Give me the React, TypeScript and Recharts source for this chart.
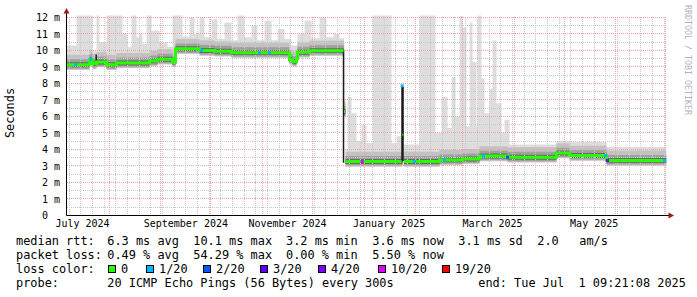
import React from 'react';
import { ComposedChart, Area, Line, XAxis, YAxis, ReferenceLine } from 'recharts';

const FONT = '"DejaVu Sans Mono", monospace';

// x = days since 2024-07-01 00:00, the graph covers the last 360 days up to Tue Jul 1 09:21:08 2025
const startDay = 5.39;
const endDay = 365.39;

// median rtt (ms), held from segStart to segEnd
const segStart = [5.39, 19.19, 20.99, 23.39, 29.39, 35.39, 55.19, 59.99, 68.99, 70.79, 85.19, 94.19, 104.39, 139.19, 141.0, 143.4, 144.0, 151.19, 171.9, 172.8, 207.0, 207.8, 229.19, 242.99, 253.19, 269.99, 299.39, 307.19, 329.39];
const segEnd = [19.19, 20.99, 23.39, 29.39, 35.39, 55.19, 59.99, 68.99, 70.79, 85.19, 94.19, 104.39, 139.19, 141.0, 143.4, 144.0, 151.19, 171.59, 172.49, 206.39, 207.59, 229.19, 242.99, 253.19, 269.99, 299.39, 307.19, 329.39, 364.8];
const segMs = [9.14, 9.44, 9.2, 9.3, 9.14, 9.24, 9.37, 9.47, 9.3, 10.1, 10.0, 9.95, 9.87, 9.45, 9.34, 9.5, 9.89, 9.99, 6.3, 3.27, 4.9, 3.27, 3.37, 3.43, 3.6, 3.53, 3.78, 3.63, 3.34];

// highest ping in the smoke (ms), held from maxDay on
const maxDay = [5.4, 11.4, 21.0, 23.4, 25.2, 29.4, 39.0, 42.0, 44.4, 47.4, 49.2, 51.0, 53.4, 56.4, 61.2, 66.0, 69.0, 75.0, 79.2, 82.2, 85.2, 88.2, 92.4, 96.0, 100.2, 104.4, 108.0, 112.2, 116.4, 120.0, 124.2, 128.4, 132.0, 136.2, 140.4, 144.0, 148.2, 152.4, 157.2, 161.4, 165.6, 169.2, 172.2, 174.0, 176.4, 179.4, 182.4, 185.4, 189.0, 200.4, 203.4, 206.4, 207.6, 217.2, 226.8, 230.4, 234.0, 236.4, 238.8, 241.2, 243.0, 245.4, 247.2, 249.0, 251.4, 252.0, 254.4, 256.2, 259.2, 261.0, 263.4, 266.4, 268.2, 271.2, 299.4, 329.4];
const maxMs = [10.3, 12.2, 9.8, 12.2, 10.5, 12.2, 11.0, 10.2, 12.2, 10.8, 11.0, 10.4, 12.2, 11.2, 10.5, 10.0, 12.2, 10.6, 12.0, 11.0, 12.0, 10.8, 11.9, 10.6, 11.7, 10.5, 12.2, 10.8, 11.5, 10.5, 11.8, 10.6, 11.3, 10.7, 10.3, 11.0, 11.8, 10.6, 12.0, 10.8, 11.0, 10.5, 4.0, 7.2, 6.2, 4.5, 5.5, 4.4, 12.2, 4.4, 4.8, 7.9, 4.3, 12.2, 5.0, 7.2, 5.3, 8.4, 6.0, 12.1, 11.4, 5.4, 11.7, 9.3, 5.4, 12.2, 8.3, 6.2, 7.7, 10.6, 6.8, 5.0, 5.8, 4.3, 4.45, 4.15];

// dark smoke at sudden jumps of the median
const jumpDay = [23.2, 171.6, 206.7, 207.3];
const jumpLow = [9.2, 3.2, 3.27, 3.3];
const jumpHigh = [9.75, 10.05, 7.86, 7.8];

// loss coloured spots on the median
const lossDay = [10.8, 20.1, 86.4, 121.2, 127.2, 182.8, 206.8, 214.2, 232.2, 255.6, 270.0, 328.8, 330.0, 364.2];
const lossMs = [9.14, 9.44, 10.0, 9.87, 9.87, 3.27, 7.86, 3.27, 3.37, 3.6, 3.53, 3.63, 3.34, 3.34];
const lossLevel = [1, 1, 1, 1, 1, 5, 1, 1, 1, 1, 2, 1, 4, 1];

const lossLabels = ['0', '1/20', '2/20', '3/20', '4/20', '10/20', '19/20'];
const lossColors = ['#26ff00', '#00b8ff', '#0059ff', '#5e00ff', '#7e00ff', '#dd00ff', '#ff0000'];

const monthStarts = [31, 62, 92, 123, 153, 184, 215, 243, 274, 304, 335, 365];
const weekStarts = [7, 14, 21, 28, 35, 42, 49, 56, 63, 70, 77, 84, 91, 98, 105, 112, 119, 126, 133, 140, 147, 154, 161, 168, 175, 182, 189, 196, 203, 210, 217, 224, 231, 238, 245, 252, 259, 266, 273, 280, 287, 294, 301, 308, 315, 322, 329, 336, 343, 350, 357, 364];
const labelDays = [15, 77, 138, 199, 261, 322];
const labelText = ['July 2024', 'September 2024', 'November 2024', 'January 2025', 'March 2025', 'May 2025'];
const yTicks = [0, 1, 2, 3, 4, 5, 6, 7, 8, 9, 10, 11, 12];
const yMinor = [0.5, 1.5, 2.5, 3.5, 4.5, 5.5, 6.5, 7.5, 8.5, 9.5, 10.5, 11.5];

const statsRtt = ['median rtt:', '6.3 ms avg', '10.1 ms max', '3.2 ms min', '3.6 ms now', '3.1 ms sd', '2.0', 'am/s'];
const statsLoss = ['packet loss:', '0.49 % avg', '54.29 % max', '0.00 % min', '5.50 % now'];
const probeText = ['probe:', '20 ICMP Echo Pings (56 Bytes) every 300s', 'end: Tue Jul  1 09:21:08 2025'];

// smoke shading around the median (ms below / above)
const smoke = [
  { key: 's0', below: 0.32, above: 0.75, fill: '#dddddd' },
  { key: 's1', below: 0.3, above: 0.6, fill: '#c2c2c2' },
  { key: 's2', below: 0.24, above: 0.33, fill: '#a0a0a0' },
  { key: 's3', below: 0.15, above: 0.15, fill: '#6a6a6a' },
];

const medAt = (d: number) => {
  let v = segMs[0];
  segStart.forEach((s, i) => { if (s <= d) v = segMs[i]; });
  return v;
};
const maxAt = (d: number) => {
  let v = maxMs[0];
  maxDay.forEach((s, i) => { if (s <= d) v = maxMs[i]; });
  return v;
};

const cuts = Array.from(new Set([startDay, ...segStart, ...segEnd, ...maxDay, endDay])).sort((a, b) => a - b);
const smokeRows = cuts.map((d) => {
  const m = medAt(d);
  const row: any = { d };
  smoke.forEach((s, i) => {
    row[s.key] = [m - s.below, i === 0 ? Math.max(maxAt(d), m + s.above) : m + s.above];
  });
  return row;
});

const medianRows: any[] = [];
segStart.forEach((s, i) => {
  if (i > 0 && s > segEnd[i - 1]) medianRows.push({ d: segEnd[i - 1], v: null });
  medianRows.push({ d: s, v: segMs[i] }, { d: segEnd[i], v: segMs[i] });
});

const jumpRows: any[] = [];
jumpDay.forEach((d, i) => {
  jumpRows.push({ d, v: jumpHigh[i] }, { d, v: jumpLow[i] }, { d, v: null });
});

const lossRows = lossDay.map((d, i) => ({ d, v: lossMs[i], c: lossColors[lossLevel[i]] }));

const LossDot = (p: any) => {
  if (p.cx == null || p.cy == null) return <g key={p.index} />;
  return <rect key={p.index} x={p.cx - 1.5} y={p.cy - 1.5} width={3} height={3} fill={p.payload.c} />;
};

const txt = { fontFamily: FONT, fontSize: 11.9, fill: '#000', whiteSpace: 'pre' } as any;

export default function App() {
  return (
    <div style={{ position: 'relative', width: 697, height: 297, background: '#fff' }}>
      <style>{'body{margin:0}'}</style>
      <ComposedChart width={697} height={297} data={smokeRows} margin={{ top: 15.5, right: 30.5, bottom: 61.5, left: 4.5 }}>
        <XAxis
          type="number"
          dataKey="d"
          domain={[startDay, endDay]}
          allowDataOverflow
          ticks={labelDays}
          tickFormatter={(v: number) => labelText[labelDays.indexOf(v)] ?? ''}
          interval={0}
          height={20}
          tickLine={false}
          tickSize={0}
          tickMargin={4.5}
          axisLine={{ stroke: '#000' }}
          tick={{ fontFamily: FONT, fontSize: 10, fill: '#000' }}
        />
        <YAxis
          type="number"
          domain={[0, 12.12]}
          allowDataOverflow
          ticks={yTicks}
          interval={0}
          width={62}
          tickLine={false}
          tickSize={0}
          tickMargin={6.5}
          axisLine={{ stroke: '#000' }}
          tickFormatter={(v: number) => (v === 0 ? '0\u00a0\u00a0' : `${v} m`)}
          tick={{ fontFamily: FONT, fontSize: 10, fill: '#000' }}
        />
        {smoke.map((s) => (
          <Area key={s.key} dataKey={s.key} type="stepAfter" stroke="none" fill={s.fill} fillOpacity={1} isAnimationActive={false} />
        ))}
        {yMinor.map((v) => (
          <ReferenceLine key={'ym' + v} y={v} stroke="#c8c8c8" strokeDasharray="1 1" shapeRendering="crispEdges" />
        ))}
        {weekStarts.map((v) => (
          <ReferenceLine key={'xw' + v} x={v} stroke="#c8c8c8" strokeDasharray="1 1" shapeRendering="crispEdges" />
        ))}
        {yTicks.slice(1).map((v) => (
          <ReferenceLine key={'yM' + v} y={v} stroke="#eca4a4" strokeDasharray="1 1" shapeRendering="crispEdges" />
        ))}
        {monthStarts.map((v) => (
          <ReferenceLine key={'xM' + v} x={v} stroke="#eca4a4" strokeDasharray="1 1" shapeRendering="crispEdges" />
        ))}
        <Line data={jumpRows} dataKey="v" type="linear" stroke="#1a1a1a" strokeWidth={1.5} dot={false} connectNulls={false} isAnimationActive={false} />
        <Line data={medianRows} dataKey="v" type="linear" stroke={lossColors[0]} strokeWidth={3} strokeLinecap="butt" dot={false} connectNulls={false} isAnimationActive={false} />
        <Line data={lossRows} dataKey="v" type="linear" stroke="none" dot={LossDot} isAnimationActive={false} />
      </ComposedChart>
      <svg width={697} height={297} style={{ position: 'absolute', left: 0, top: 0, pointerEvents: 'none' }}>
        <line x1={66.5} y1={16} x2={66.5} y2={12} stroke="#000" />
        <polygon points="63.5,13.5 69.5,13.5 66.5,8" fill="#a01818" />
        <line x1={666} y1={215.5} x2={669} y2={215.5} stroke="#000" />
        <polygon points="668.5,212.5 668.5,218.5 674,215.5" fill="#a01818" />
        <text transform="translate(14,113) rotate(-90)" textAnchor="middle" style={txt}>Seconds</text>
        <text transform="translate(685,5) rotate(90)" style={{ fontFamily: FONT, fontSize: 8.3, fill: '#b4b4b4' }}>RRDTOOL / TOBI OETIKER</text>
        {statsRtt.map((s, i) => (
          <text key={'r' + i} x={[16, 107.3, 193.3, 286, 372.3, 458.3, 537.3, 579.3][i]} y={245} style={txt}>{s}</text>
        ))}
        {statsLoss.map((s, i) => (
          <text key={'l' + i} x={[16, 107.3, 193.3, 286, 372.3][i]} y={259} style={txt}>{s}</text>
        ))}
        <text x={16} y={273} style={txt}>loss color:</text>
        {lossLabels.map((s, i) => {
          const bx = [108, 146, 203, 260, 318, 378, 442][i];
          return (
            <g key={'c' + i}>
              <rect x={bx + 0.5} y={265.5} width={7} height={7} fill={lossColors[i]} stroke="#000" />
              <text x={bx + 13} y={273} style={txt}>{s}</text>
            </g>
          );
        })}
        {probeText.map((s, i) => (
          <text key={'p' + i} x={[16, 107.3, 478.3][i]} y={287} style={txt}>{s}</text>
        ))}
      </svg>
    </div>
  );
}
